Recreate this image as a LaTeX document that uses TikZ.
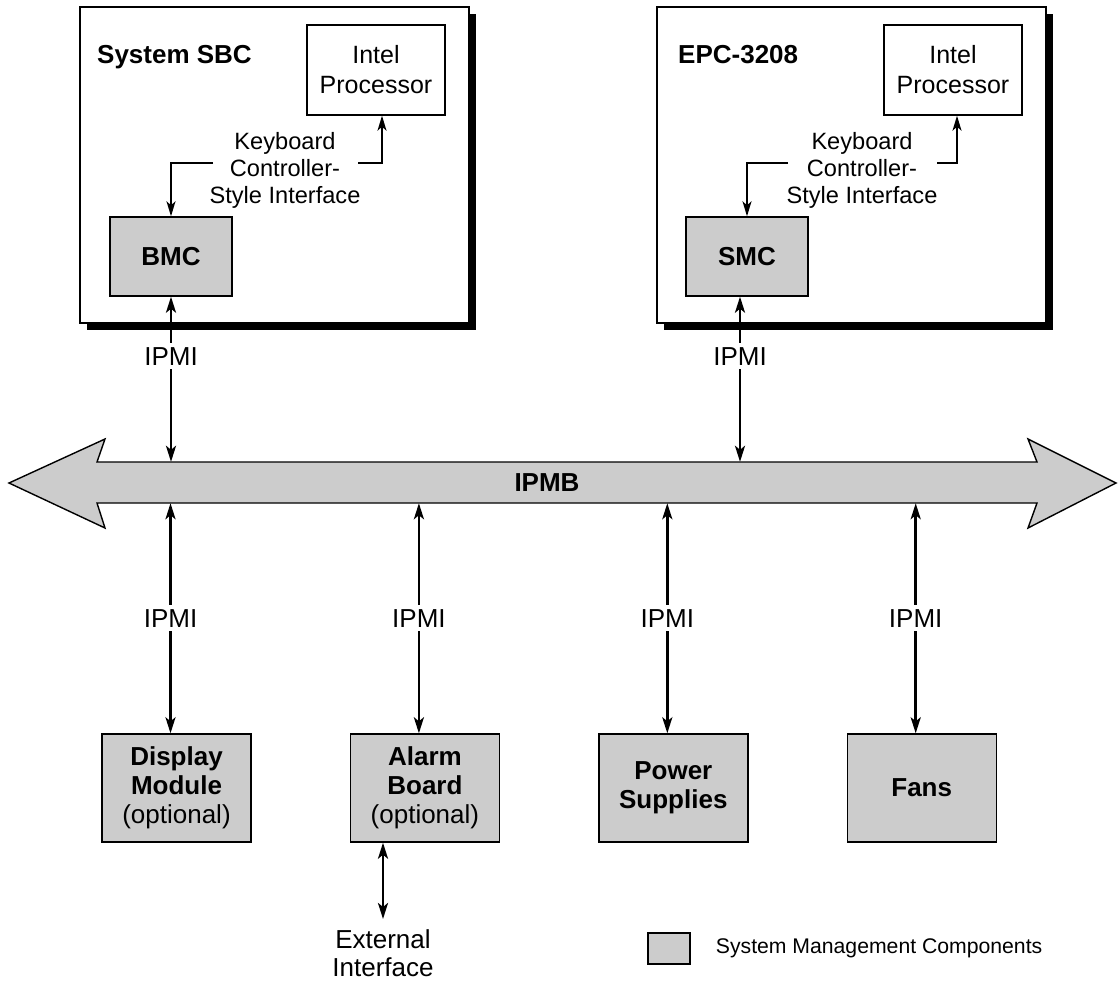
\documentclass[tikz,border=0pt]{standalone}
\usepackage{fontspec}
\setmainfont{Liberation Sans}
\usetikzlibrary{positioning,arrows.meta,shadows}
\definecolor{smcgray}{HTML}{CCCCCC}

\begin{document}
\begin{tikzpicture}[x=1pt, y=-1pt,
	board/.style={rectangle, draw=black, line width=1.4pt, fill=white, minimum width=389pt, minimum height=316pt, drop shadow={shadow xshift=7pt, shadow yshift=-7pt, fill=black, opacity=1}},
	cpu/.style={rectangle, draw=black, line width=1.4pt, fill=white, minimum width=138pt, minimum height=90pt, align=center, font=\fontsize{25}{30}\selectfont},
	mgmt/.style={rectangle, draw=black, line width=1.4pt, fill=smcgray, align=center, font=\fontsize{26}{29}\selectfont},
	ctrl/.style={mgmt, minimum width=122pt, minimum height=79pt, font=\fontsize{26}{29}\selectfont\bfseries},
	comp/.style={mgmt, minimum width=149pt, minimum height=108pt},
	title/.style={anchor=base west, inner sep=0pt, font=\fontsize{26}{29}\selectfont\bfseries},
	kbd/.style={align=center, font=\fontsize{23.6}{27}\selectfont},
	lbl/.style={fill=white, inner sep=4pt, font=\fontsize{26}{29}\selectfont},
	link/.style={line width=1.6pt, -{Stealth[length=15pt, width=9pt, inset=4pt]}},
	ipmi/.style={line width=2.6pt, {Stealth[length=16pt, width=10pt, inset=4pt]}-{Stealth[length=16pt, width=10pt, inset=4pt]}}
	]
	\useasboundingbox (0,0) rectangle (1118,980);

		\node (sbc) [board] at (274.5,165) {};
		\node (epc) [board] at (851.5,165) {};
			\node (sbcname) [title] at (97,63) {System SBC};
			\node (epcname) [title] at (678,63) {EPC-3208};
			\node (sbccpu) [cpu] at (376,70) {Intel\\Processor};
			\node (epccpu) [cpu] at (953,70) {Intel\\Processor};
			\node (bmc) [ctrl] at (171,256.5) {BMC};
			\node (smc) [ctrl] at (747,256.5) {SMC};
			\node (sbckbd) [kbd] at (285,170) {Keyboard\\Controller-\\Style Interface};
			\node (epckbd) [kbd] at (862,170) {Keyboard\\Controller-\\Style Interface};

	\draw [fill=smcgray, line width=1.4pt, line join=miter] (9,483) -- (105,439) -- (97,462) -- (1037,462) -- (1028,439) -- (1116,483) -- (1028,528) -- (1037,503) -- (97,503) -- (105,528) -- cycle;
		\node (bus) [minimum height=41pt, inner sep=0pt, font=\fontsize{26}{29}\selectfont\bfseries] at (547,482.5) {IPMB};

		\node (disp) [comp] at (176.5,788) {\textbf{Display}\\\textbf{Module}\\(optional)};
		\node (alarm) [comp, right=98pt of disp] {\textbf{Alarm}\\\textbf{Board}\\(optional)};
		\node (power) [comp, right=98pt of alarm] {\textbf{Power}\\\textbf{Supplies}};
		\node (fans) [comp, right=98pt of power] {\textbf{Fans}};
			\node (ext) [anchor=north, align=center, inner sep=0pt, font=\fontsize{26}{28}\selectfont] at (383,929) {External\\Interface};

		\node (key) [mgmt, minimum width=42pt, minimum height=31pt] at (669,948.5) {};
		\node (keytext) [right=25pt of key, inner sep=0pt, font=\fontsize{21.2}{25}\selectfont] {System Management Components};

	\coordinate (sbcl) at (213,163);
	\coordinate (sbcr) at (358,163);
	\coordinate (epcl) at (788,163);
	\coordinate (epcr) at (937,163);
	\draw [link] (sbcl) -| (bmc.north);
	\draw [link] (sbcr) -| ([xshift=6pt]sbccpu.south);
	\draw [link] (epcl) -| (smc.north);
	\draw [link] (epcr) -| ([xshift=4pt]epccpu.south);

	\coordinate (bmcport) at (bmc.south);
	\coordinate (smcport) at ([xshift=-7pt]smc.south);
	\draw [ipmi] (bmcport) -- node[lbl, pos=.36] {IPMI} (bmcport |- bus.north);
	\draw [ipmi] (smcport) -- node[lbl, pos=.36] {IPMI} (smcport |- bus.north);

	\foreach \c in {disp,alarm,power,fans}{
		\coordinate (\c port) at ([xshift=-6pt]\c.north);
		\draw [ipmi] (\c port |- bus.south) -- node[lbl] {IPMI} (\c port);
	}

	\coordinate (extport) at ([yshift=10pt]ext.north);
	\draw [ipmi] (extport) -- (extport |- alarm.south);

\end{tikzpicture}
\end{document}
